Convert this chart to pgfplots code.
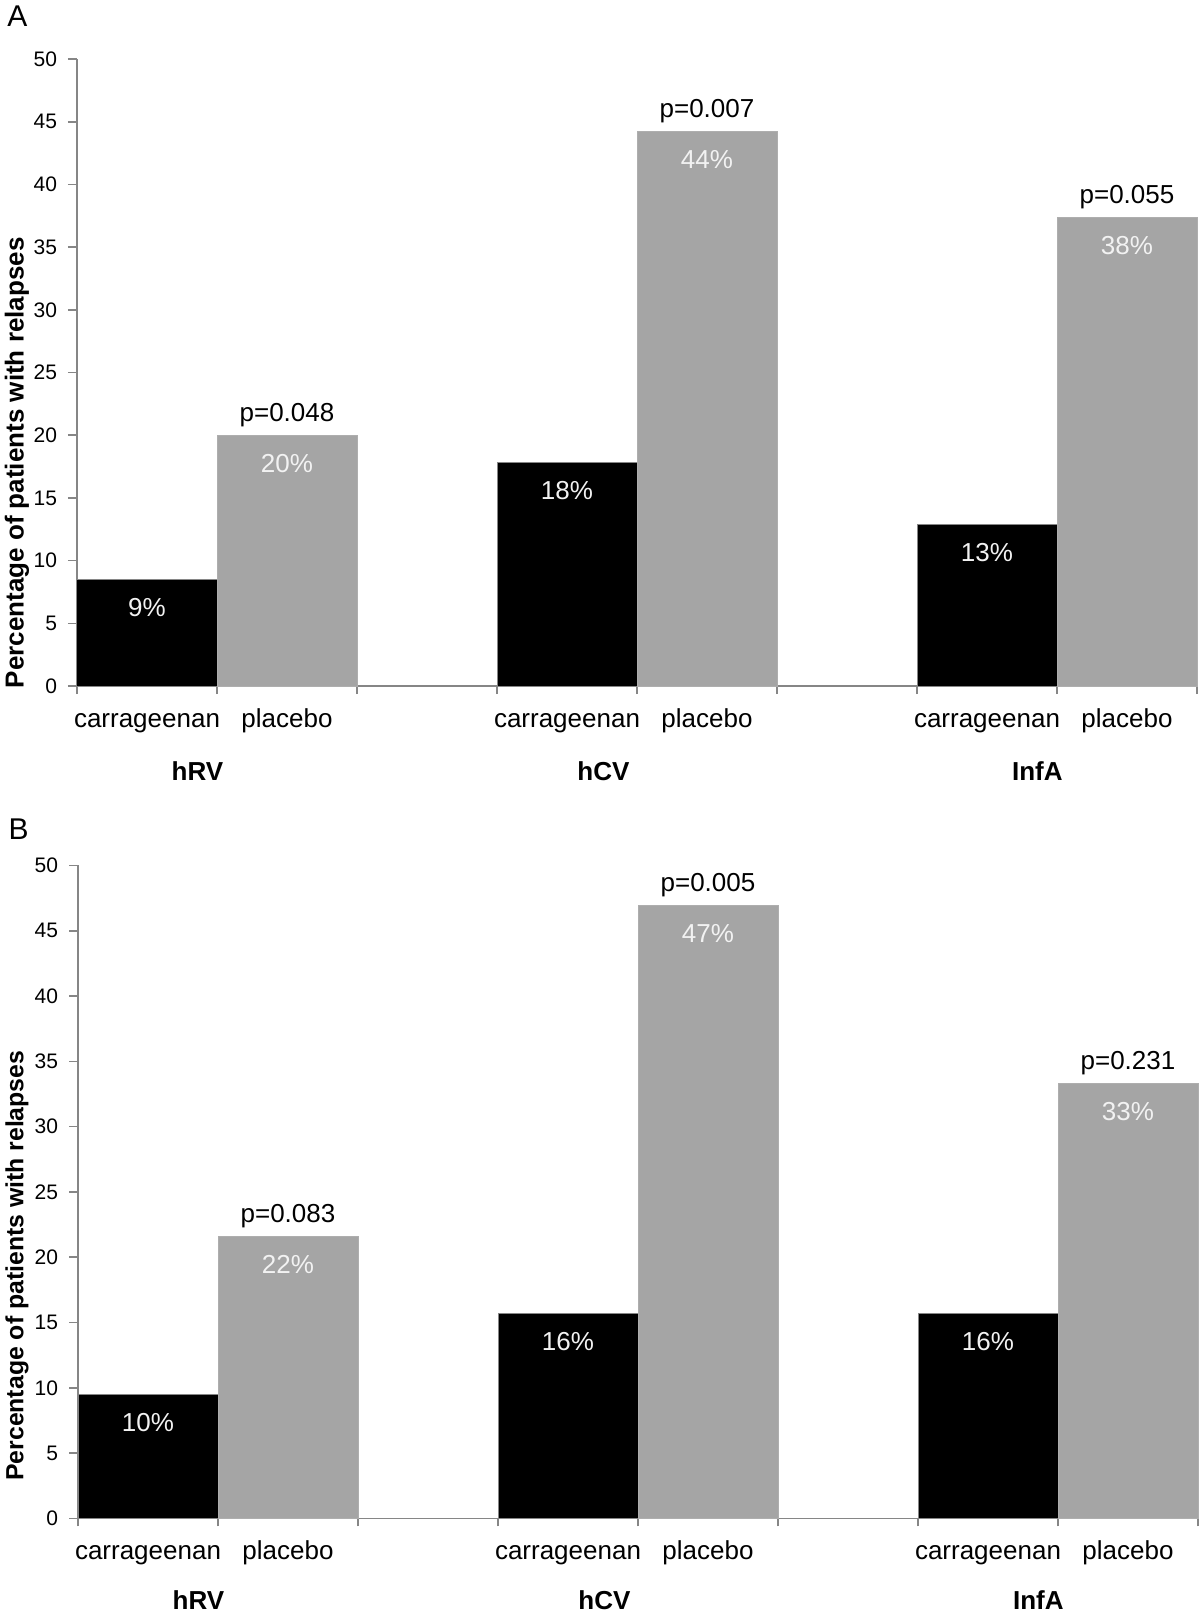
\documentclass[border=0pt]{standalone}
\usepackage{fontspec}
\setmainfont{Liberation Sans}
\usepackage{pgfplots}
\pgfplotsset{compat=1.18}

\definecolor{barGrey}{HTML}{A5A5A5}
\definecolor{axisGrey}{HTML}{868686}
\definecolor{labWhite}{HTML}{F2F2F2}

\tikzset{
  pval/.style={anchor=base, yshift=7pt, font=\fontsize{13}{15}\selectfont},
  grp/.style={anchor=center, yshift=-42.5pt, font=\fontsize{13}{15}\selectfont\bfseries},
}

% common look of both panels
\pgfplotsset{
  relapse/.style={
    scale only axis,
    width=560pt,
    xmin=0, xmax=8,
    ymin=0, ymax=50,
    axis x line*=bottom,
    axis y line*=left,
    axis line style={axisGrey, line width=0.8pt},
    ytick={0,5,...,50},
    xtick={0.5,1.5,3.5,4.5,6.5,7.5},
    xticklabels={carrageenan,placebo,carrageenan,placebo,carrageenan,placebo},
    minor xtick={0,1,...,8},
    tick align=outside,
    major tick length=4.5pt,
    x tick style={draw=none},
    minor x tick style={draw=axisGrey, line width=0.8pt},
    minor tick length=4pt,
    y tick style={axisGrey, line width=0.8pt},
    /pgf/number format/assume math mode=true,
    yticklabel style={font=\fontsize{10.5}{12}\selectfont, xshift=-2pt},
    xticklabel style={font=\fontsize{13}{15}\selectfont, anchor=base, yshift=-16pt},
    clip=false,
    every node near coord/.style={anchor=base, yshift=-18.5pt, text=labWhite,
      font=\fontsize{13}{15}\selectfont},
    nodes near coords={\pgfplotspointmeta},
    point meta=explicit symbolic,
  },
}

\begin{document}
\begin{tikzpicture}
\useasboundingbox (0,0) rectangle (600pt,-806.5pt);

\node[font=\fontsize{15}{17}\selectfont] at (8.7pt,-8.2pt) {A};
\node[font=\fontsize{15}{17}\selectfont] at (9.3pt,-414.5pt) {B};

% Panel A
\begin{axis}[relapse,
    at={(38.5pt,-343pt)}, anchor=south west,
    height=313.5pt,
    ylabel={Percentage of patients with relapses},
    ylabel style={at={(axis description cs:-0.0536,0.356)}, anchor=center,
      font=\fontsize{13}{15}\selectfont\bfseries},
  ]
  \addplot[ybar, bar width=1, bar shift=0pt, fill=black, draw=axisGrey, line width=0.5pt]
    coordinates {(0.5,8.5) [9\%] (3.5,17.8) [18\%] (6.5,12.9) [13\%]};
  \addplot[ybar, bar width=1, bar shift=0pt, fill=barGrey, draw=barGrey!90!white, line width=0.5pt]
    coordinates {(1.5,20.0) [20\%] (4.5,44.2) [44\%] (7.5,37.4) [38\%]};
  \node[pval] at (axis cs:1.5,20.0) {p=0.048};
  \node[pval] at (axis cs:4.5,44.2) {p=0.007};
  \node[pval] at (axis cs:7.5,37.4) {p=0.055};
  \node[grp] at (axis cs:0.86,0) {hRV};
  \node[grp] at (axis cs:3.76,0) {hCV};
  \node[grp] at (axis cs:6.86,0) {InfA};
\end{axis}

% Panel B
\begin{axis}[relapse,
    at={(39pt,-759.2pt)}, anchor=south west,
    height=326.5pt,
    ylabel={Percentage of patients with relapses},
    ylabel style={at={(axis description cs:-0.0545,0.387)}, anchor=center,
      font=\fontsize{12.4}{15}\selectfont\bfseries},
  ]
  \addplot[ybar, bar width=1, bar shift=0pt, fill=black, draw=axisGrey, line width=0.5pt]
    coordinates {(0.5,9.5) [10\%] (3.5,15.7) [16\%] (6.5,15.7) [16\%]};
  \addplot[ybar, bar width=1, bar shift=0pt, fill=barGrey, draw=barGrey!90!white, line width=0.5pt]
    coordinates {(1.5,21.6) [22\%] (4.5,46.9) [47\%] (7.5,33.3) [33\%]};
  \node[pval] at (axis cs:1.5,21.6) {p=0.083};
  \node[pval] at (axis cs:4.5,46.9) {p=0.005};
  \node[pval] at (axis cs:7.5,33.3) {p=0.231};
  \node[grp, yshift=1.5pt] at (axis cs:0.86,0) {hRV};
  \node[grp, yshift=1.5pt] at (axis cs:3.76,0) {hCV};
  \node[grp, yshift=1.5pt] at (axis cs:6.86,0) {InfA};
\end{axis}
\end{tikzpicture}
\end{document}
